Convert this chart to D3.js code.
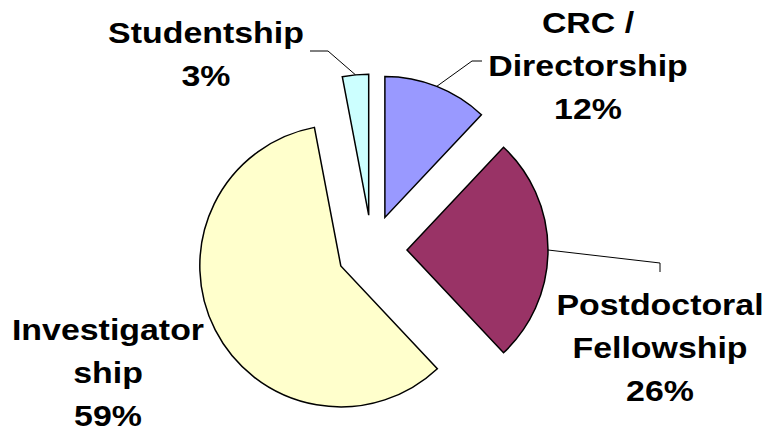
<!DOCTYPE html>
<html>
<head>
<meta charset="utf-8">
<script src="https://cdn.jsdelivr.net/npm/d3@7"></script>
<style>
  body { margin: 0; background: #fff; }
  svg { display: block; }
  .lbl { font-family: "Liberation Sans", Arial, sans-serif; font-weight: bold; font-size: 30px; fill: #000; }
</style>
</head>
<body>
<svg width="763" height="433"></svg>
<script>
// data, clockwise from 12 o'clock
var categories = ["CRC / Directorship", "Postdoctoral Fellowship", "Investigator ship", "Studentship"];
var values = [12, 26, 59, 3];
var colors = ["#9999ff", "#993366", "#ffffcc", "#ccffff"];
var labelLines = [["CRC /", "Directorship"], ["Postdoctoral", "Fellowship"], ["Investigator", "ship"], ["Studentship"]];

// label placement (center x, first baseline y) and leader elbows
var labelPos = [[588, 33], [660, 315], [108, 340], [206, 43]];
var leaders = [[[472, 61], [482, 61]], [[660, 263], [660, 272]], null, [[328, 51], [310, 51]]];

var svg = d3.select("svg"),
  cx = 372, cy = 250,
  radius = 141,
  explode = 35,
  lineH = 43;

var total = d3.sum(values);

var pie = d3.pie().sort(null).value(function(d) { return d; });
var arcs = pie(values);

var arc = d3.arc().innerRadius(0).outerRadius(radius);

function dir(a) {
  return [Math.sin(a), -Math.cos(a)];
}

var g = svg.append("g").attr("transform", "translate(" + cx + "," + cy + ")");

g.selectAll("path")
  .data(arcs)
  .enter().append("path")
  .attr("d", arc)
  .attr("fill", function(d, i) { return colors[i]; })
  .attr("stroke", "#000")
  .attr("stroke-width", 1.5)
  .attr("stroke-linejoin", "miter")
  .attr("transform", function(d) {
    var v = dir((d.startAngle + d.endAngle) / 2);
    return "translate(" + v[0] * explode + "," + v[1] * explode + ")";
  });

// leader lines from outer arc midpoint
arcs.forEach(function(d, i) {
  if (!leaders[i]) return;
  var v = dir((d.startAngle + d.endAngle) / 2);
  var p0 = [cx + v[0] * (explode + radius), cy + v[1] * (explode + radius)];
  var pts = [p0].concat(leaders[i]);
  svg.append("path")
    .attr("d", d3.line()(pts))
    .attr("fill", "none")
    .attr("stroke", "#000")
    .attr("stroke-width", 1);
});

// labels
arcs.forEach(function(d, i) {
  var lines = labelLines[i].concat([Math.round(d.value / total * 100) + "%"]);
  var t = svg.append("g")
    .attr("transform", "translate(" + labelPos[i][0] + "," + labelPos[i][1] + ") scale(1.13,1)");
  lines.forEach(function(s, j) {
    t.append("text")
      .attr("class", "lbl")
      .attr("text-anchor", "middle")
      .attr("x", 0)
      .attr("y", j * lineH)
      .text(s);
  });
});
</script>
</body>
</html>
